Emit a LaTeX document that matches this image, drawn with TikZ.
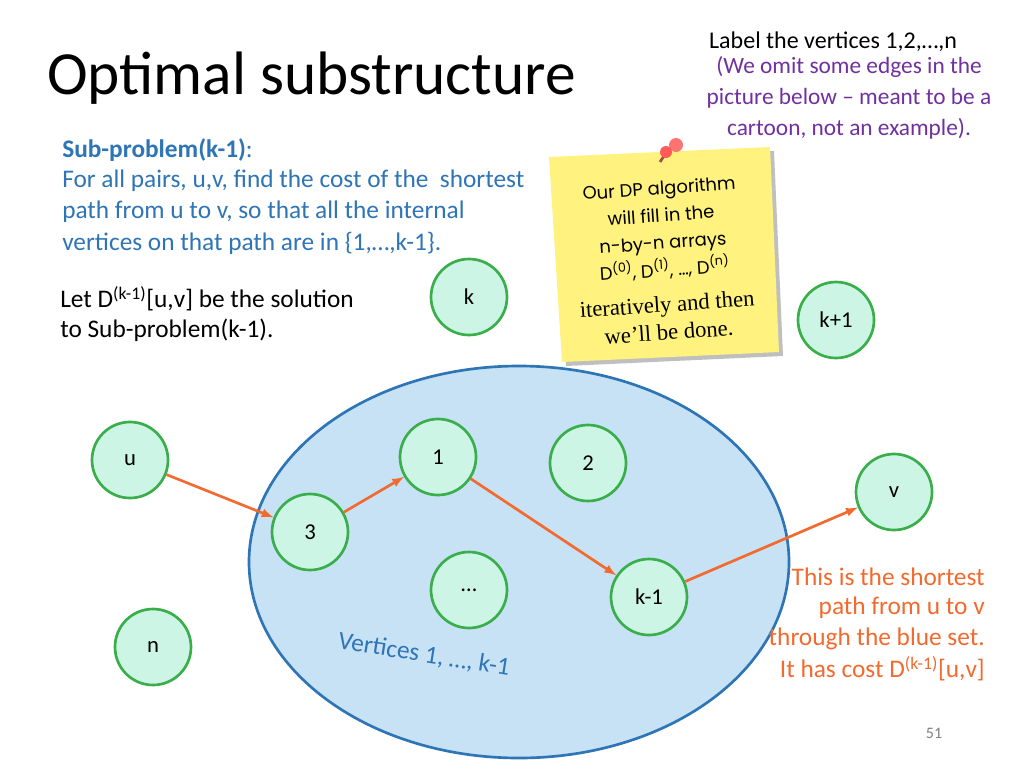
\documentclass[tikz,border=0pt]{standalone}
\usepackage{fontspec}
\setmainfont{Carlito}
\newfontfamily\notefont{Poppins}
\newfontfamily\serifnote{Liberation Serif}
\begin{document}
\begin{tikzpicture}[x=0.75pt,y=-0.75pt,
  vtx/.style={circle,draw=greenc,fill=mintc,line width=2pt,minimum size=57pt,inner sep=0pt,font=\fontsize{17}{20}\selectfont},
  arr/.style={-latex,draw=orangec,line width=2pt},
  bluetxt/.style={text=bluec,font=\fontsize{19}{22}\selectfont,anchor=west,inner sep=0pt},
  orangetxt/.style={text=orangec,font=\fontsize{19}{22}\selectfont,anchor=east,inner sep=0pt}]
\definecolor{mintc}{HTML}{CCF5E6}
\definecolor{greenc}{HTML}{3AAE4A}
\definecolor{bluec}{HTML}{2E75B6}
\definecolor{orangec}{HTML}{F26A2E}
\definecolor{purplec}{HTML}{7030A0}
\definecolor{ellfill}{HTML}{C7E1F5}
\definecolor{notec}{HTML}{FFF27E}
\useasboundingbox[fill=white] (0,0) rectangle (1024,768);
\node[anchor=west,inner sep=0pt,font=\fontsize{46}{52}\selectfont] (title) at (47,78) {Optimal substructure};
\node[inner sep=0pt,font=\fontsize{18}{21}\selectfont] (lab) at (833,42) {Label the vertices 1,2,…,n};
\node[inner sep=0pt,align=center,text=purplec,font=\fontsize{17.5}{23.3}\selectfont] (omit) at (849,98) {(We omit some edges in the\\picture below -- meant to be a\\cartoon, not an example).};
\node[bluetxt] (sp) at (62,150) {\textbf{Sub-problem(k-1)}:};
\node[bluetxt] (sp1) at (62,181) {For all pairs, u,v, find the cost of the\ \ shortest};
\node[bluetxt] (sp2) at (62,212) {path from u to v, so that all the internal};
\node[bluetxt] (sp3) at (62,243) {vertices on that path are in \{1,…,k-1\}.};
\node[bluetxt,text=black] (let1) at (60,299) {Let D\textsuperscript{(k-1)}[u,v] be the solution};
\node[bluetxt,text=black] (let2) at (60,330) {to Sub-problem(k-1).};
% sticky note
\fill[black!25] (553,161) -- (774,151) -- (783,356) -- (566,366) -- cycle;
\fill[notec] (549,157) -- (770,147) -- (779,352) -- (562,362) -- cycle;
\node[rotate=4,align=center,font=\notefont\fontsize{13.5}{20.5}\selectfont] (note) at (662,230) {Our DP algorithm\\will fill in the\\n-by-n arrays\\D\textsuperscript{(0)}, D\textsuperscript{(1)}, …, D\textsuperscript{(n)}};
\node[rotate=4,align=center,font=\serifnote\fontsize{17}{21}\selectfont] (note2) at (668,318) {iteratively and then\\we’ll be done.};
\draw[line width=2pt,red!50!black!70] (668,150) -- (660,162);
\fill[red!55!white] (676,145) circle (7);
\fill[red!65!white] (666,152) circle (6);
% ellipse
\draw[bluec,fill=ellfill,line width=2pt] (519,562) ellipse [x radius=270,y radius=196];
\node[rotate=-9,text=bluec,font=\fontsize{19}{22}\selectfont] (vert) at (424,655) {Vertices 1, …, k-1};
% vertices
\node[vtx] (k) at (469,297) {k};
\node[vtx] (kp) at (836,320) {k+1};
\node[vtx] (u) at (130,460) {u};
\node[vtx] (one) at (438,457) {1};
\node[vtx] (two) at (588,463) {2};
\node[vtx] (v) at (894,492) {v};
\node[vtx] (three) at (310,532) {3};
\node[vtx] (dots) at (469,590) {…};
\node[vtx] (km) at (649,597) {k-1};
\node[vtx] (n) at (153,647) {n};
\draw[arr] (u) -- (three);
\draw[arr] (three) -- (one);
\draw[arr] (one) -- (km);
\draw[arr] (km) -- (v);
\node[orangetxt] (o1) at (985,577) {This is the shortest};
\node[orangetxt] (o2) at (985,608) {path from u to v};
\node[orangetxt] (o3) at (985,639) {through the blue set.};
\node[orangetxt] (o4) at (985,669) {It has cost D\textsuperscript{(k-1)}[u,v]};
\node[text=black!50,font=\fontsize{12}{14}\selectfont] (pg) at (934,733) {51};
\end{tikzpicture}
\end{document}
